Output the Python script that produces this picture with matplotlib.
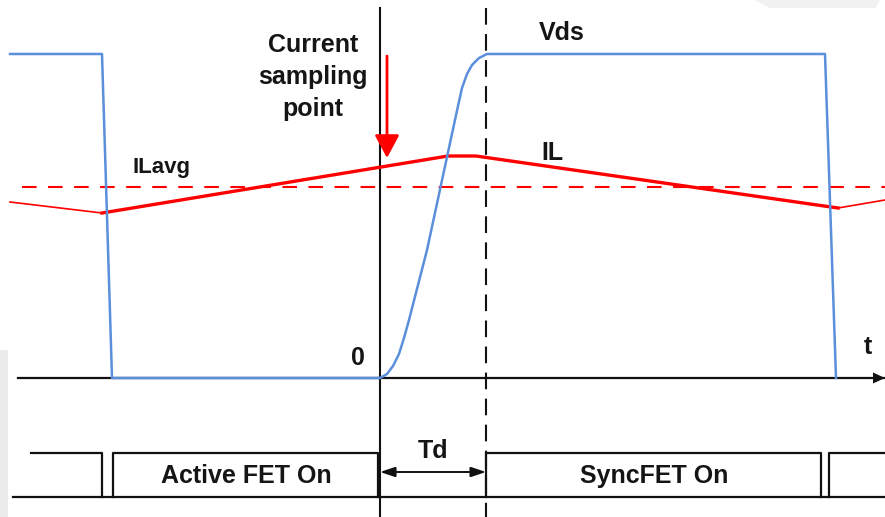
import matplotlib
matplotlib.use("Agg")
import matplotlib.pyplot as plt
from matplotlib.patches import Polygon

plt.rcParams['font.family'] = ['Liberation Sans', 'DejaVu Sans']

# ---- data (in picture units: x = time position, y = level, downwards) ----
vds_t = [10, 102, 112, 380, 387, 393, 399, 404, 409, 427, 447, 458, 462, 467, 472, 479, 487, 825, 836]
vds_v = [54, 54, 378, 378, 374, 366, 354, 338, 320, 250, 157, 106, 88, 74, 65, 58, 54, 54, 378]

il_thin_left_t = [10, 102]
il_thin_left_v = [202, 213]
il_t = [102, 448, 476, 838]
il_v = [213, 156, 156, 208]
il_thin_right_t = [838, 885]
il_thin_right_v = [208, 200]

ilavg_level = 187
ilavg_span = [22, 885]

axis_level = 378
axis_span = [18, 885]

sample_t = 380
sync_t = 486
line_top = 8
line_bottom = 517

# gate boxes (left, right, left edge drawn, right edge drawn)
box_top = 453
box_base = 497
boxes = [(31, 102, False, True), (113, 378, True, True), (486, 821, True, True), (829, 885, True, False)]
box_labels = ["", "Active FET On", "SyncFET On", ""]

# ---- figure ----
fig = plt.figure(figsize=(8.85, 5.17), dpi=100)
ax = fig.add_axes([0, 0, 1, 1])
ax.set_xlim(0, 885)
ax.set_ylim(517, 0)
ax.axis('off')

# faint page shadows
ax.add_patch(Polygon([[0, 350], [8, 350], [8, 517], [0, 517]], closed=True, color='#ececec', lw=0, zorder=0))
ax.add_patch(Polygon([[755, 0], [880, 0], [876, 8], [770, 8]], closed=True, color='#f1f1f1', lw=0, zorder=0))

black = '#111111'
blue = '#5b8fdc'
red = '#ff0000'
txtc = '#151515'

# time axis with arrow
ax.plot(axis_span, [axis_level, axis_level], color=black, lw=1.6, zorder=2)
ax.add_patch(Polygon([[885, axis_level], [873, axis_level - 5.5], [873, axis_level + 5.5]],
                     closed=True, color=black, lw=0, zorder=3))

# vertical markers
ax.plot([sample_t, sample_t], [line_top, line_bottom], color=black, lw=1.5, zorder=2)
ax.plot([sync_t, sync_t], [line_top, line_bottom], color=black, lw=1.5, ls=(0, (8, 4.5)), zorder=2)

# ILavg dashed
ax.plot(ilavg_span, [ilavg_level, ilavg_level], color=red, lw=1.5, ls=(0, (7, 5.5)), zorder=3)

# IL
ax.plot(il_thin_left_t, il_thin_left_v, color=red, lw=1.2, zorder=4)
ax.plot(il_t, il_v, color=red, lw=2.4, solid_joinstyle='round', zorder=4)
ax.plot(il_thin_right_t, il_thin_right_v, color=red, lw=1.2, zorder=4)

# Vds
ax.plot(vds_t, vds_v, color=blue, lw=1.8, solid_joinstyle='round', zorder=5)

# sampling arrow
ax.annotate('', xy=(387, 158), xytext=(387, 56),
            arrowprops=dict(arrowstyle='-|>,head_length=1.4,head_width=0.75', color=red, lw=2.0,
                            shrinkA=0, shrinkB=0), zorder=6)

# gate boxes
ax.plot([13, 885], [box_base, box_base], color=black, lw=1.6, zorder=2)
for (l, r, has_l, has_r), lab in zip(boxes, box_labels):
    xs, ys = [], []
    if has_l:
        xs += [l]; ys += [box_base]
    xs += [l, r]; ys += [box_top, box_top]
    if has_r:
        xs += [r]; ys += [box_base]
    ax.plot(xs, ys, color=black, lw=1.6, zorder=2)
    if lab:
        ax.text((l + r) / 2 + 1, (box_top + box_base) / 2 + 1, lab, ha='center', va='center',
                fontsize=18, fontweight='bold', color=txtc)

# Td arrow
ax.annotate('', xy=(sample_t, 472), xytext=(sync_t, 472),
            arrowprops=dict(arrowstyle='<|-|>,head_length=0.9,head_width=0.3', color=black, lw=1.4,
                            shrinkA=0, shrinkB=0), zorder=6)

tk = dict(ha='center', va='center', fontweight='bold', color=txtc)
ax.text(433, 451, 'Td', fontsize=18, **tk)
ax.text(313, 77, 'Current\nsampling\npoint', fontsize=18, linespacing=1.42, **tk)
ax.text(562, 33, 'Vds', fontsize=18, **tk)
ax.text(552, 153, 'IL', fontsize=18, **tk)
ax.text(161, 168, 'ILavg', fontsize=16, **tk)
ax.text(358, 358, '0', fontsize=18, **tk)
ax.text(868, 347, 't', fontsize=18, **tk)

fig.savefig('out.png', dpi=100)
